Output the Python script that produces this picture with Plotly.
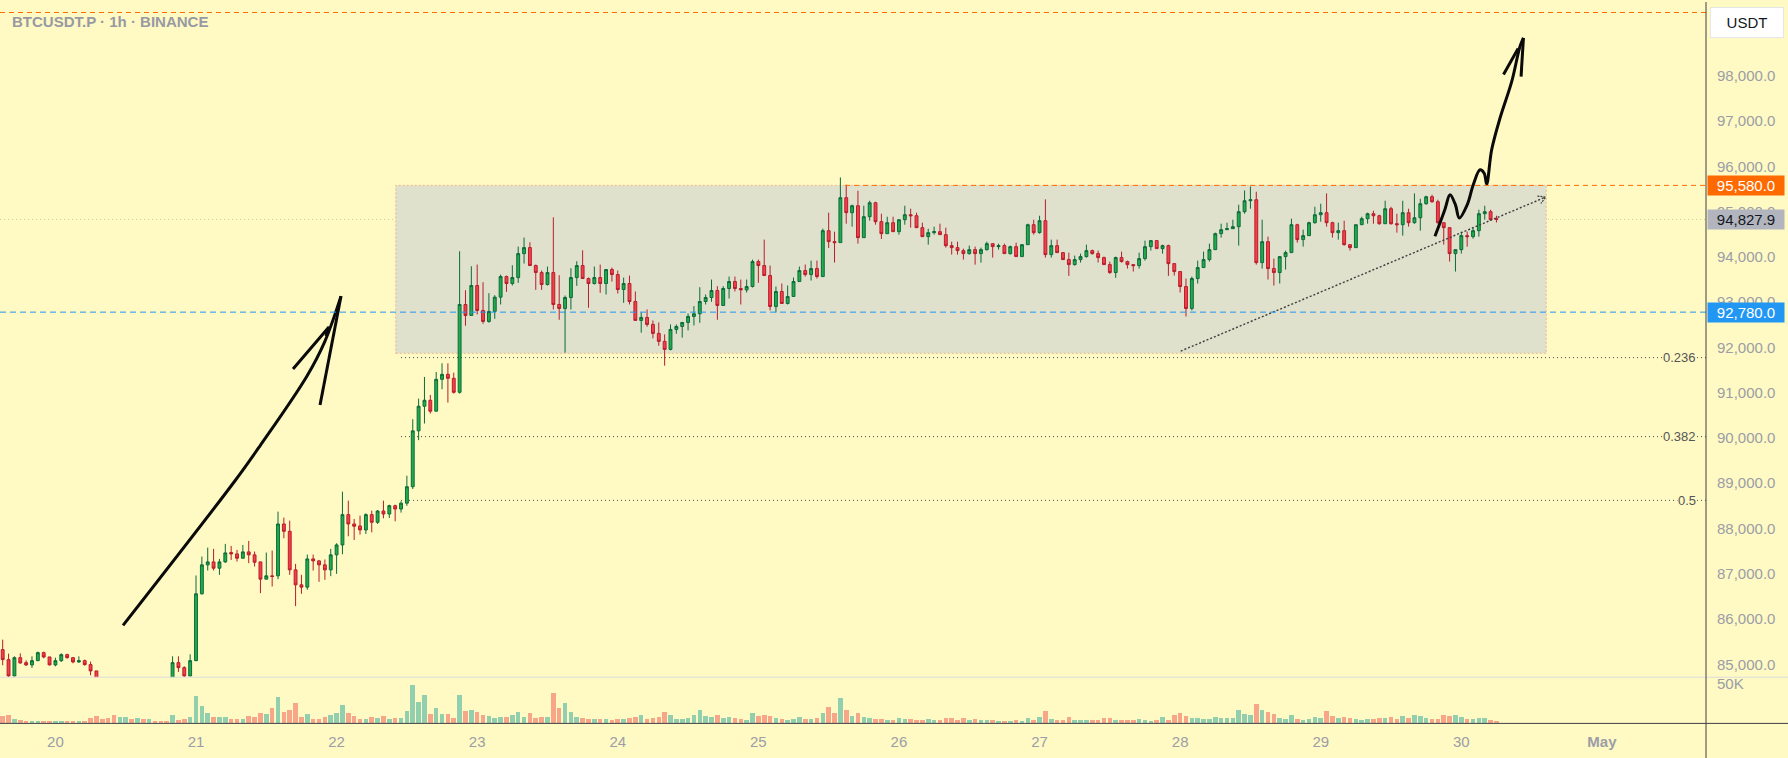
import pandas as pd
import plotly.graph_objects as go

# ---------------- data (hourly candles, BTCUSDT.P 1h) ----------------
BASE_TIME = pd.Timestamp("2025-04-21 00:00")
FIRST_HOUR = -33  # first candle = Apr 19 15:00

OPEN = [
    85323, 85102, 84742, 85146, 85036, 84985, 85080, 85257, 85161, 84985,
    85080, 85213, 85146, 85051, 85080, 84992, 84853, 84600, 84450, 84300,
    84150, 84300, 84400, 84320, 84420, 84350, 84450, 84400, 84380, 84300,
    85036, 84926, 84742, 85080, 86557, 87196, 87262, 87123, 87262, 87468,
    87438, 87343, 87483, 87417, 87262, 86880, 86954, 86954, 88100, 87938,
    87086, 86755, 86704, 87328, 87284, 87196, 87086, 87417, 87637, 88306,
    88100, 88056, 87968, 88306, 88137, 88386, 88320, 88504, 88430, 88560,
    88923, 90157, 90701, 90833, 90591, 91296, 91406, 91318, 91009, 92949,
    92707, 93368, 92817, 92574, 92795, 93111, 93566, 93412, 93544, 94073,
    94206, 93809, 93654, 93390, 93654, 92949, 92861, 93103, 93544, 93809,
    93522, 93412, 93544, 93412, 93721, 93610, 93280, 93412, 93015, 92597,
    92663, 92508, 92310, 92134, 91957, 92398, 92464, 92552, 92685, 92744,
    93015, 93103, 93258, 92927, 93302, 93456, 93302, 93272, 93346, 93897,
    93809, 93588, 92905, 93236, 92971, 93126, 93456, 93699, 93610, 93743,
    93566, 94580, 94338, 94316, 95308, 94977, 95131, 94426, 94889, 95197,
    94779, 94514, 94756, 94558, 94822, 94932, 94910, 94646, 94448, 94536,
    94558, 94492, 94249, 94205, 94139, 94073, 94161, 94073, 94161, 94293,
    94227, 94249, 94073, 94227, 94007, 94271, 94712, 94536, 94800, 94051,
    94249, 94095, 93941, 93830, 93941, 94007, 94139, 94073, 93985, 93830,
    93654, 93985, 93897, 93830, 93808, 93963, 94227, 94360, 94183, 94249,
    93852, 93676, 93345, 92861, 93522, 93765, 93941, 94161, 94514, 94602,
    94624, 94668, 94999, 95241, 95263, 93874, 94337, 93742, 93654, 94007,
    94095, 94712, 94382, 94470, 94756, 94932, 94977, 94756, 94536, 94580,
    94271, 94205, 94712, 94844, 94954, 94910, 94734, 95065, 94734, 94712,
    94977, 94756, 94866, 95175, 95329, 95219, 94756, 94646, 94073, 94161,
    94470, 94448, 94580, 94954, 94999, 94845,
]
HIGH = [
    85544, 85235, 85176, 85242, 85088, 85176, 85279, 85279, 85165, 85146,
    85242, 85235, 85161, 85176, 85102, 85058, 84853, 84650, 84500, 84350,
    84330, 84450, 84430, 84460, 84440, 84480, 84500, 84420, 84400, 85176,
    85176, 84955, 85220, 86961, 87380, 87578, 87549, 87328, 87659, 87615,
    87527, 87637, 87725, 87490, 87262, 87468, 87512, 88372, 88240, 88173,
    87218, 86976, 87424, 87424, 87306, 87314, 87549, 87674, 88813, 88614,
    88210, 88284, 88335, 88394, 88408, 88614, 88526, 88526, 88600, 89166,
    90414, 90870, 91348, 90951, 91458, 91649, 91649, 91443, 94125, 93265,
    93794, 93831, 93441, 93199, 93155, 93610, 93588, 93816, 94228, 94426,
    94323, 93831, 93699, 93787, 94874, 93596, 93147, 93750, 93904, 94147,
    93544, 93787, 93831, 93721, 93765, 93699, 93544, 93588, 93236, 92773,
    92839, 92596, 92552, 92288, 92508, 92508, 92552, 92751, 92913, 93331,
    93169, 93500, 93353, 93353, 93566, 93566, 93500, 93500, 93941, 93941,
    94382, 93809, 93346, 93412, 93368, 93544, 93787, 93831, 93919, 93919,
    94624, 94977, 94558, 95756, 95594, 95153, 95462, 95131, 95241, 95219,
    94954, 94888, 94888, 94822, 95131, 95065, 94977, 94756, 94624, 94668,
    94734, 94646, 94337, 94337, 94183, 94249, 94227, 94205, 94337, 94293,
    94293, 94293, 94249, 94315, 94271, 94734, 94822, 94910, 95271, 94382,
    94382, 94095, 94095, 94029, 94073, 94271, 94161, 94139, 94007, 93897,
    94007, 94117, 93919, 93830, 94095, 94360, 94360, 94360, 94271, 94271,
    93852, 93676, 93522, 93566, 93919, 94117, 94293, 94536, 94734, 94756,
    94822, 95153, 95469, 95557, 95440, 94822, 94448, 93963, 94007, 94139,
    94844, 94734, 94602, 94778, 95108, 95175, 95403, 94778, 94756, 94800,
    94271, 94712, 94888, 94977, 95020, 94932, 95241, 95108, 94954, 95241,
    95065, 95403, 95285, 95351, 95373, 95263, 94756, 94646, 94161, 94558,
    94558, 94646, 95043, 95131, 95043, 94910,
]
LOW = [
    84978, 84720, 84735, 85014, 84963, 84919, 85070, 85132, 84980, 84955,
    85051, 85124, 85022, 85029, 84970, 84757, 84450, 84380, 84250, 84080,
    84100, 84250, 84280, 84300, 84320, 84330, 84380, 84340, 84260, 84280,
    84831, 84720, 84735, 85070, 86540, 87071, 87071, 86976, 87240, 87306,
    87270, 87343, 87233, 87160, 86572, 86880, 86719, 86880, 87784, 86976,
    86285, 86557, 86645, 87071, 86822, 86866, 86947, 86998, 87431, 87828,
    87747, 87865, 87880, 87916, 88100, 88225, 88232, 88159, 88350, 88500,
    88872, 89952, 90319, 90539, 90591, 91076, 90782, 90980, 90980, 92479,
    92707, 92729, 92523, 92545, 92633, 92949, 93228, 93368, 93427, 93853,
    93809, 93272, 93272, 93368, 92839, 92611, 91884, 92839, 93361, 93522,
    92876, 93390, 93206, 93169, 93456, 93191, 92986, 92949, 92597, 92325,
    92457, 92200, 92038, 91597, 91935, 92303, 92215, 92376, 92486, 92545,
    92949, 93008, 92611, 92927, 93081, 93236, 92949, 93214, 93324, 93427,
    93588, 92817, 92773, 92971, 92949, 93126, 93456, 93566, 93478, 93522,
    93566, 94198, 93875, 94316, 94734, 94668, 94294, 94426, 94801, 94712,
    94396, 94514, 94558, 94492, 94712, 94646, 94646, 94448, 94271, 94492,
    94492, 94205, 94051, 94051, 93941, 94051, 93830, 93874, 94139, 93985,
    94161, 94073, 94051, 94007, 94007, 94271, 94492, 94514, 93985, 93985,
    94095, 93941, 93581, 93808, 93875, 93985, 94051, 93875, 93830, 93625,
    93537, 93875, 93742, 93676, 93742, 93919, 94139, 94183, 94073, 93581,
    93588, 93213, 92684, 92817, 93412, 93765, 93897, 94161, 94426, 94602,
    94624, 94249, 94955, 95065, 93830, 93742, 93500, 93368, 93412, 93720,
    94095, 94315, 94227, 94470, 94734, 94778, 94668, 94426, 94382, 94249,
    94139, 94205, 94712, 94734, 94734, 94712, 94734, 94712, 94536, 94470,
    94668, 94734, 94580, 95153, 95197, 94734, 94271, 93897, 93676, 94073,
    94227, 94403, 94448, 94822, 94800, 94760,
]
CLOSE = [
    85103, 84742, 85146, 85029, 84985, 85080, 85257, 85161, 84985, 85080,
    85213, 85146, 85051, 85080, 84992, 84853, 84600, 84450, 84300, 84150,
    84300, 84400, 84320, 84420, 84350, 84450, 84400, 84380, 84300, 85036,
    84926, 84742, 85080, 86557, 87196, 87262, 87123, 87262, 87461, 87438,
    87343, 87483, 87417, 87255, 86880, 86954, 86939, 88100, 87938, 87086,
    86755, 86704, 87328, 87284, 87196, 87086, 87417, 87637, 88306, 88100,
    88049, 87968, 88306, 88137, 88386, 88320, 88504, 88430, 88560, 88923,
    90157, 90701, 90833, 90591, 91296, 91406, 91318, 91009, 92949, 92707,
    93368, 92817, 92574, 92795, 93111, 93566, 93412, 93544, 94073, 94206,
    93809, 93654, 93390, 93654, 92949, 92861, 93103, 93544, 93809, 93522,
    93412, 93544, 93412, 93721, 93610, 93280, 93412, 93015, 92597, 92663,
    92508, 92310, 92134, 91957, 92398, 92464, 92552, 92685, 92744, 93015,
    93103, 93258, 92927, 93302, 93456, 93302, 93272, 93346, 93897, 93809,
    93588, 92905, 93236, 92971, 93126, 93456, 93699, 93610, 93743, 93566,
    94580, 94338, 94316, 95308, 94977, 95131, 94426, 94889, 95197, 94779,
    94514, 94756, 94558, 94822, 94932, 94910, 94646, 94448, 94536, 94558,
    94492, 94249, 94205, 94139, 94073, 94161, 94073, 94161, 94293, 94227,
    94249, 94073, 94227, 94007, 94271, 94712, 94536, 94800, 94051, 94249,
    94095, 93941, 93830, 93941, 94007, 94139, 94073, 93985, 93830, 93654,
    93985, 93897, 93830, 93808, 93963, 94227, 94360, 94183, 94249, 93852,
    93676, 93345, 92861, 93522, 93765, 93941, 94161, 94514, 94602, 94624,
    94668, 94999, 95241, 95263, 93874, 94337, 93742, 93654, 94007, 94095,
    94712, 94382, 94470, 94756, 94932, 94977, 94756, 94536, 94580, 94271,
    94205, 94712, 94844, 94954, 94910, 94734, 95065, 94734, 94712, 94977,
    94756, 94866, 95175, 95329, 95219, 94756, 94646, 94073, 94161, 94470,
    94448, 94580, 94954, 94999, 94822, 94827.9,
]
VOLUME_K = [
    9.2, 10.4, 5.4, 4.2, 2.9, 2.9, 2.9, 2.9, 2.9, 2.9,
    2.9, 2.9, 2.9, 2.9, 2.9, 6.7, 9.2, 5.4, 6.7, 10.4,
    7.9, 7.9, 5.4, 6.7, 5.4, 5.4, 2.9, 2.9, 2.9, 10.4,
    4.6, 5.4, 7.9,
    34.2, 21.7, 12.9, 7.9, 7.9, 7.9, 5.4, 5.4, 5.4, 9.2,
    7.9, 12.9, 11.7, 19.2, 32.9, 14.2, 16.7, 25.4, 7.9, 11.7,
    5.4, 5.4, 7.9, 10.4, 12.9, 22.9, 12.9, 9.2, 5.4, 5.4,
    7.9, 6.7, 9.2, 5.4, 6.7, 6.7, 15.4, 47.9, 26.7, 35.4,
    11.7, 19.2, 11.7, 11.7, 6.7, 35.4, 15.4, 16.7, 14.2, 10.4,
    9.2, 6.7, 7.9, 7.9, 10.4, 14.2, 7.9, 12.9, 6.7, 7.9,
    7.9, 37.9, 19.2, 25.4, 14.2, 7.9, 6.7, 5.4, 5.4,
    5.4, 5.4, 4.2, 5.4, 5.4, 6.7, 7.9, 10.4, 5.4, 6.7,
    7.9, 14.2, 10.4, 5.4, 5.4, 6.7, 10.4, 16.7, 9.2, 7.9,
    10.4, 6.7, 7.9, 6.7, 5.4, 4.2, 12.9, 9.2, 10.4, 9.2,
    6.7, 5.4, 4.2, 5.4, 7.9, 5.4, 5.4, 6.7, 12.9, 20.4,
    12.9, 31.7, 16.7, 9.2, 12.9, 7.9, 6.7, 5.4, 5.4, 4.2,
    4.2, 6.7, 5.4, 5.4, 4.2, 4.2, 5.4, 4.2, 4.2, 6.7,
    6.7, 4.2, 6.7, 4.2, 5.4, 4.2, 4.2, 4.2, 2.9, 2.9,
    2.9, 4.2, 2.9, 6.7, 4.2, 7.9, 15.4, 5.4, 4.2, 4.2,
    7.9, 4.2, 4.2, 4.2, 4.2, 4.2, 6.7, 6.7, 4.2, 4.2,
    4.2, 4.2, 5.4, 4.2, 2.9, 4.2, 7.9, 4.2, 10.4, 12.9,
    9.2, 6.7,
    6.7, 5.4, 5.4, 7.9, 6.7, 6.7, 6.7, 16.7, 11.7, 10.4,
    24.2, 16.7, 14.2, 11.7, 6.7, 5.4, 10.4, 5.4, 4.2, 5.4,
    7.9, 6.7, 15.4, 9.2, 6.7, 7.9, 6.7, 5.4, 4.2, 5.4,
    5.4, 6.7, 6.7, 7.9, 5.4, 9.2, 6.7, 10.4, 9.2, 6.7,
    5.4, 5.4, 10.4, 9.2, 10.4, 7.9, 5.4, 5.4, 6.7, 6.7,
    4.2, 2.9,
]

PRICE_TICKS = list(range(85000, 99000, 1000))
PRICE_TICK_TEXT = [f"{v:,.1f}" for v in PRICE_TICKS]
DAY_TICKS = ["2025-04-20", "2025-04-21", "2025-04-22", "2025-04-23", "2025-04-24",
             "2025-04-25", "2025-04-26", "2025-04-27", "2025-04-28", "2025-04-29",
             "2025-04-30", "2025-05-01"]
DAY_LABELS = ["20", "21", "22", "23", "24", "25", "26", "27", "28", "29", "30", "<b>May</b>"]

LEVEL_RESIST = 95580.0
LEVEL_SUPPORT = 92780.0
LEVEL_LAST = 94827.9
LEVEL_TOP = 99400.0
BOX_PRICES = (91870.0, 95580.0)
BOX_HOURS = (34.1, 230.5)
FIB_RATIOS = ["0.236", "0.382", "0.5"]
FIB_PRICES = [91775.0, 90030.0, 88620.0]
FIB_START_HOUR = 35.0
RESIST_START_HOUR = 110.8
TREND_HOURS = [168.1, 230.4]
TREND_PRICES = [91920.0, 95322.0]
TREND_HEAD_HOURS = [228.99, 230.4, 229.58]
TREND_HEAD_PRICES = [95344.0, 95322.0, 95180.0]

# hand drawn arrows (hour offset, price)
ARROW1_SHAFT_H = [-12.46, 6.66, 10.93, 18.95, 22.02, 24.75]
ARROW1_SHAFT_P = [85859, 89055, 89827, 91370, 92141, 93133]
ARROW1_BARB_L_H = [16.56, 22.70, 22.2]
ARROW1_BARB_L_P = [91524, 92450, 92250]
ARROW1_BARB_R_H = [24.75, 21.17]
ARROW1_BARB_R_P = [93133, 90730]
ARROW2_H = [211.5, 213.2, 214.07, 215.0, 215.66, 217.0, 218.04, 219.19, 219.9, 220.33,
            221.18, 222.6, 224.6, 226.0, 226.6]
ARROW2_P = [94455, 95050, 95374, 95150, 94859, 95150, 95595, 95925, 95850, 95608,
            96366, 97063, 97871, 98643, 98841]
ARROW2_BARB_L_H = [223.2, 225.7]
ARROW2_BARB_L_P = [98032, 98605]
ARROW2_BARB_R_H = [226.6, 226.2]
ARROW2_BARB_R_P = [98841, 97982]

# ---------------- layout constants ----------------
W, H = 1788, 758
PLOT_RIGHT = 1706
PRICE_BOTTOM = 677
VOL_BOTTOM = 723.3
BG = "#FFF9C4"
X_RANGE_H = (-33.46, 257.77)
PRICE_RANGE = (84714, 99632)
VOL_RANGE = (0, 57.9)
AXIS_TXT = "#9b9ea6"
FONT = "Liberation Sans"


def t(h):
    return BASE_TIME + pd.to_timedelta(h, unit="h")


times = [t(FIRST_HOUR + i) for i in range(len(OPEN))]
vol_colors = ["rgba(38,166,154,0.5)" if c >= o else "rgba(239,83,80,0.5)"
              for o, c in zip(OPEN, CLOSE)]

fig = go.Figure()

fig.add_trace(go.Bar(
    x=times, y=VOLUME_K, marker=dict(color=vol_colors, line=dict(width=0)),
    width=0.78 * 3600 * 1000, xaxis="x2", yaxis="y2", hoverinfo="skip", showlegend=False))

fig.add_trace(go.Candlestick(
    x=times, open=OPEN, high=HIGH, low=LOW, close=CLOSE,
    increasing=dict(line=dict(color="#0b6b3a", width=1), fillcolor="#22ab4a"),
    decreasing=dict(line=dict(color="#b91d2c", width=1), fillcolor="#f2404a"),
    whiskerwidth=0, xaxis="x", yaxis="y", hoverinfo="skip", showlegend=False))

# trend line (dotted) with open arrow head
fig.add_trace(go.Scatter(
    x=[t(h) for h in TREND_HOURS], y=TREND_PRICES, mode="lines",
    line=dict(color="#3d3d3d", width=1.4, dash="2px,2px"), hoverinfo="skip", showlegend=False))
fig.add_trace(go.Scatter(
    x=[t(h) for h in TREND_HEAD_HOURS], y=TREND_HEAD_PRICES, mode="lines",
    line=dict(color="#3d3d3d", width=1.2, dash="2px,1px"), hoverinfo="skip", showlegend=False))

# freehand arrows
for hs, ps, shape in [
    (ARROW1_SHAFT_H, ARROW1_SHAFT_P, "spline"),
    (ARROW1_BARB_L_H, ARROW1_BARB_L_P, "linear"),
    (ARROW1_BARB_R_H, ARROW1_BARB_R_P, "linear"),
    (ARROW2_H, ARROW2_P, "spline"),
    (ARROW2_BARB_L_H, ARROW2_BARB_L_P, "linear"),
    (ARROW2_BARB_R_H, ARROW2_BARB_R_P, "linear"),
]:
    fig.add_trace(go.Scatter(
        x=[t(h) for h in hs], y=ps, mode="lines",
        line=dict(color="#0a0a0a", width=3, shape=shape),
        hoverinfo="skip", showlegend=False))

shapes = []
# range box
shapes.append(dict(type="rect", xref="x", yref="y", x0=t(BOX_HOURS[0]), x1=t(BOX_HOURS[1]),
                   y0=BOX_PRICES[0], y1=BOX_PRICES[1], fillcolor="#DFE1CC",
                   line=dict(color="rgba(236,160,120,0.7)", width=1, dash="2px,2px"), layer="below"))
# current price dotted line
shapes.append(dict(type="line", xref="paper", yref="y", x0=0, x1=PLOT_RIGHT / W,
                   y0=LEVEL_LAST, y1=LEVEL_LAST,
                   line=dict(color="rgba(110,110,120,0.35)", width=1, dash="1px,3px"), layer="below"))
# support (blue) and tops (orange)
shapes.append(dict(type="line", xref="paper", yref="y", x0=0, x1=PLOT_RIGHT / W,
                   y0=LEVEL_SUPPORT, y1=LEVEL_SUPPORT,
                   line=dict(color="#2196F3", width=1, dash="6px,4px"), layer="above"))
shapes.append(dict(type="line", xref="paper", yref="y", x0=0, x1=PLOT_RIGHT / W,
                   y0=LEVEL_TOP, y1=LEVEL_TOP,
                   line=dict(color="#FF6D00", width=1, dash="5px,4px"), layer="above"))
shapes.append(dict(type="line", xref="x", yref="y", x0=t(RESIST_START_HOUR), x1=t(X_RANGE_H[1]),
                   y0=LEVEL_RESIST, y1=LEVEL_RESIST,
                   line=dict(color="#FF6D00", width=1, dash="5px,4px"), layer="above"))
# fib levels
for p in FIB_PRICES:
    shapes.append(dict(type="line", xref="x", yref="y", x0=t(FIB_START_HOUR), x1=t(X_RANGE_H[1]),
                       y0=p, y1=p, line=dict(color="#4a4a4a", width=1, dash="1px,3px"),
                       layer="below"))
# pane separators / axis lines
shapes.append(dict(type="line", xref="paper", yref="paper", x0=0, x1=1,
                   y0=1 - PRICE_BOTTOM / H, y1=1 - PRICE_BOTTOM / H,
                   line=dict(color="#dcdcdc", width=1)))
shapes.append(dict(type="line", xref="paper", yref="paper", x0=0, x1=1,
                   y0=1 - VOL_BOTTOM / H, y1=1 - VOL_BOTTOM / H,
                   line=dict(color="#3f3f46", width=1)))
shapes.append(dict(type="line", xref="paper", yref="paper", x0=PLOT_RIGHT / W, x1=PLOT_RIGHT / W,
                   y0=0, y1=1, line=dict(color="#3f3f46", width=1)))

annotations = []
annotations.append(dict(xref="paper", yref="paper", x=10 / W, y=1 - 20 / H, xanchor="left",
                        yanchor="middle", showarrow=False, text="<b>BTCUSDT.P · 1h · BINANCE</b>",
                        font=dict(family=FONT, size=15, color="#979aa3")))
annotations.append(dict(xref="paper", yref="paper", x=1747 / W, y=1 - 20.5 / H, xanchor="center",
                        yanchor="middle", showarrow=False, text="USDT", width=68, height=25,
                        bgcolor="#ffffff", bordercolor="#e6e6e6", borderwidth=1, borderpad=2,
                        font=dict(family=FONT, size=15, color="#131722")))
for ratio, p in zip(FIB_RATIOS, FIB_PRICES):
    annotations.append(dict(xref="paper", yref="y", x=1697 / W, y=p, xanchor="right",
                            yanchor="middle", showarrow=False, text=ratio, bgcolor=BG, borderpad=0,
                            font=dict(family=FONT, size=13, color="#555555")))
for p, bg, fg in [(LEVEL_RESIST, "#FF6A00", "#ffffff"),
                  (LEVEL_LAST, "#B2B5BE", "#131722"),
                  (LEVEL_SUPPORT, "#2196F3", "#ffffff")]:
    annotations.append(dict(xref="paper", yref="y", x=(PLOT_RIGHT + 0.7) / W, y=p, xanchor="left",
                            yanchor="middle", showarrow=False, text=f"{p:,.1f}", width=74, height=17,
                            borderpad=1, bgcolor=bg, align="center",
                            font=dict(family=FONT, size=15, color=fg)))

fig.update_layout(
    width=W, height=H, margin=dict(l=0, r=0, t=0, b=0),
    paper_bgcolor=BG, plot_bgcolor=BG, showlegend=False, bargap=0,
    xaxis=dict(domain=[0, PLOT_RIGHT / W], anchor="y", range=[t(X_RANGE_H[0]), t(X_RANGE_H[1])],
               type="date", showgrid=False, zeroline=False, showticklabels=False,
               rangeslider=dict(visible=False), fixedrange=True),
    yaxis=dict(domain=[1 - PRICE_BOTTOM / H, 1], anchor="x", range=list(PRICE_RANGE),
               side="right", showgrid=False, zeroline=False, tickvals=PRICE_TICKS,
               ticktext=PRICE_TICK_TEXT, ticks="", ticklabelstandoff=10,
               tickfont=dict(family=FONT, size=15, color=AXIS_TXT)),
    xaxis2=dict(domain=[0, PLOT_RIGHT / W], anchor="y2", matches="x", type="date",
                showgrid=False, zeroline=False, tickvals=DAY_TICKS, ticktext=DAY_LABELS,
                ticks="", ticklabelstandoff=8,
                tickfont=dict(family=FONT, size=15, color=AXIS_TXT)),
    yaxis2=dict(domain=[1 - VOL_BOTTOM / H, 1 - PRICE_BOTTOM / H], anchor="x2",
                range=list(VOL_RANGE), side="right", showgrid=False, zeroline=False,
                tickvals=[50], ticktext=["50K"], ticks="", ticklabelstandoff=10,
                tickfont=dict(family=FONT, size=15, color=AXIS_TXT)),
    shapes=shapes, annotations=annotations,
)

fig.write_html("out.html", config={"displayModeBar": False, "staticPlot": True})
